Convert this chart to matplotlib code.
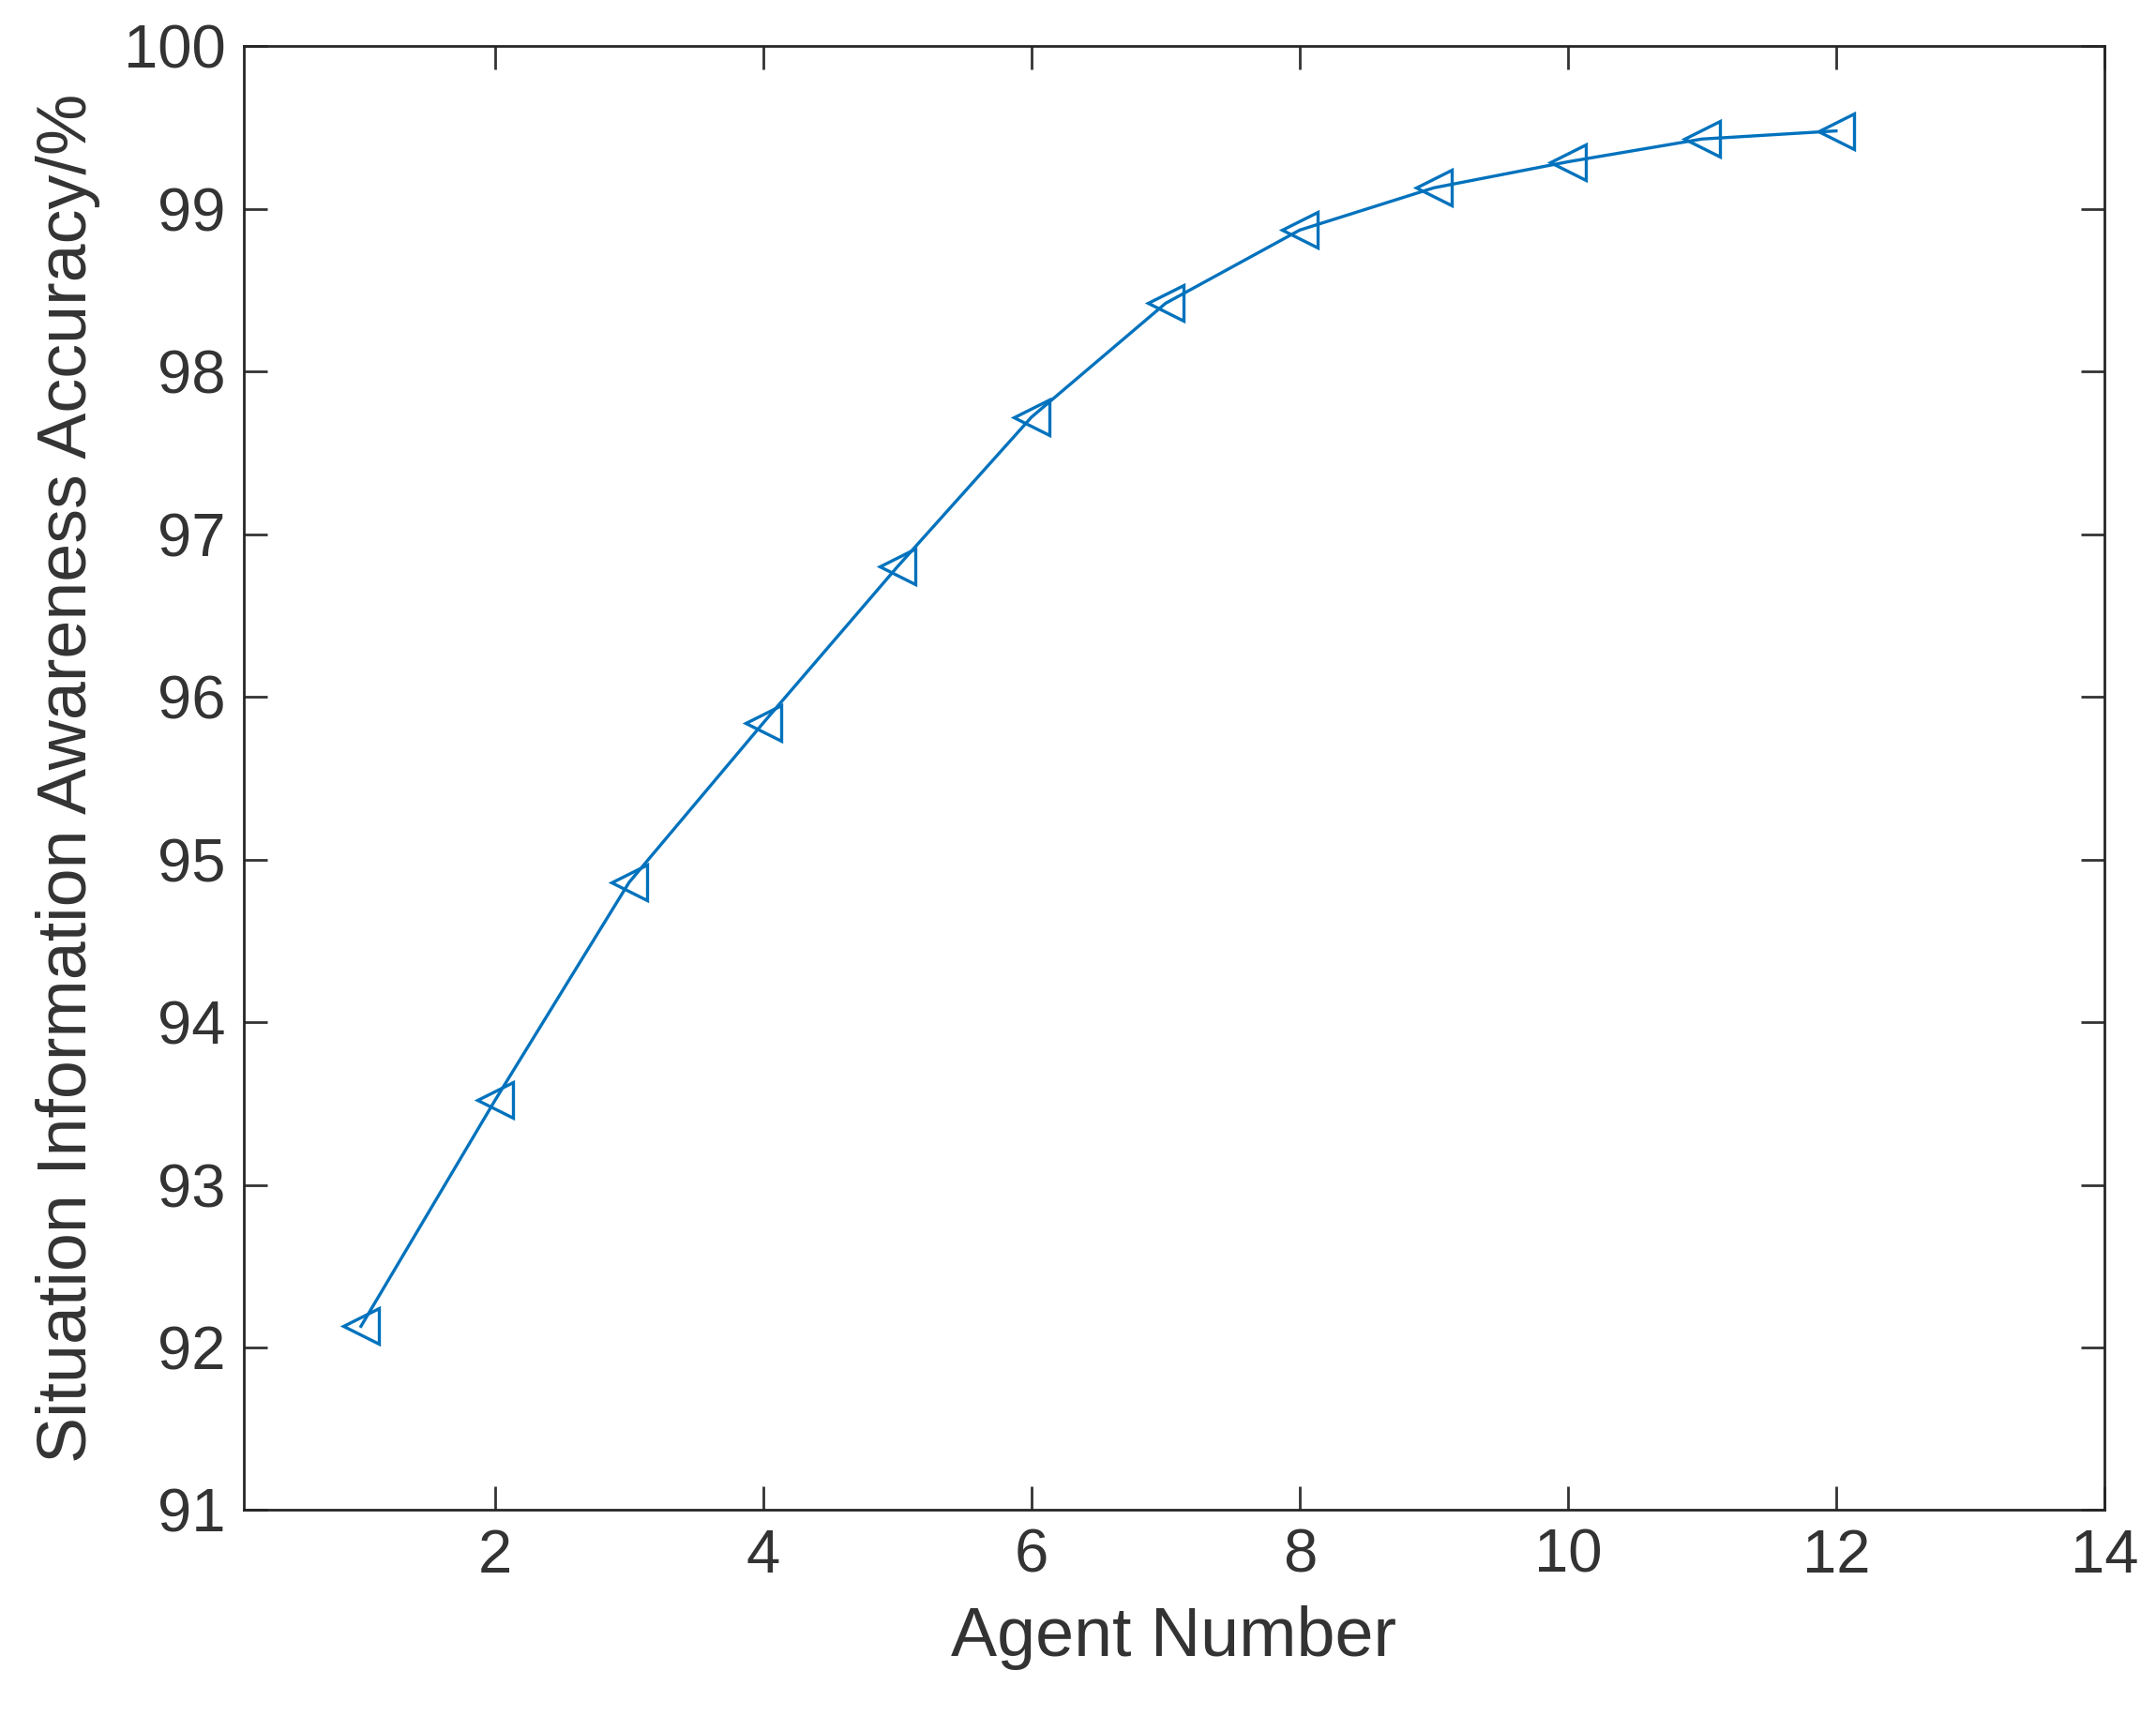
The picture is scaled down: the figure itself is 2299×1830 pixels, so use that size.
import matplotlib.pyplot as plt

plt.rcParams['font.family'] = ['Liberation Sans', 'DejaVu Sans']

agents = [1, 2, 3, 4, 5, 6, 7, 8, 9, 10, 11, 12]
accuracy = [92.13, 93.52, 94.86, 95.84, 96.80, 97.72, 98.42, 98.87, 99.13, 99.29, 99.43, 99.48]

fig = plt.figure(figsize=(22.99, 18.30), dpi=100)
ax = fig.add_axes([0.113, 0.12, 0.863, 0.853])
ax.plot(agents, accuracy, color='#0072BD', linewidth=2.4, marker='<',
        markersize=28, markerfacecolor='none', markeredgewidth=2.4)
ax.set_xlim(0.125, 14)
ax.set_ylim(91, 100)
ax.set_xticks([2, 4, 6, 8, 10, 12, 14])
ax.set_yticks(range(91, 101))
ax.tick_params(direction='in', length=18, width=2, labelsize=47, colors='#333333',
               top=True, right=True, pad=14)
for s in ax.spines.values():
    s.set_linewidth(2)
    s.set_color('#262626')
ax.set_xlabel('Agent Number', fontsize=53, color='#333333', labelpad=16)
ax.set_ylabel('Situation Information Awareness Accuracy/%', fontsize=53,
              color='#333333', labelpad=18)
fig.savefig('out.png', dpi=100)
